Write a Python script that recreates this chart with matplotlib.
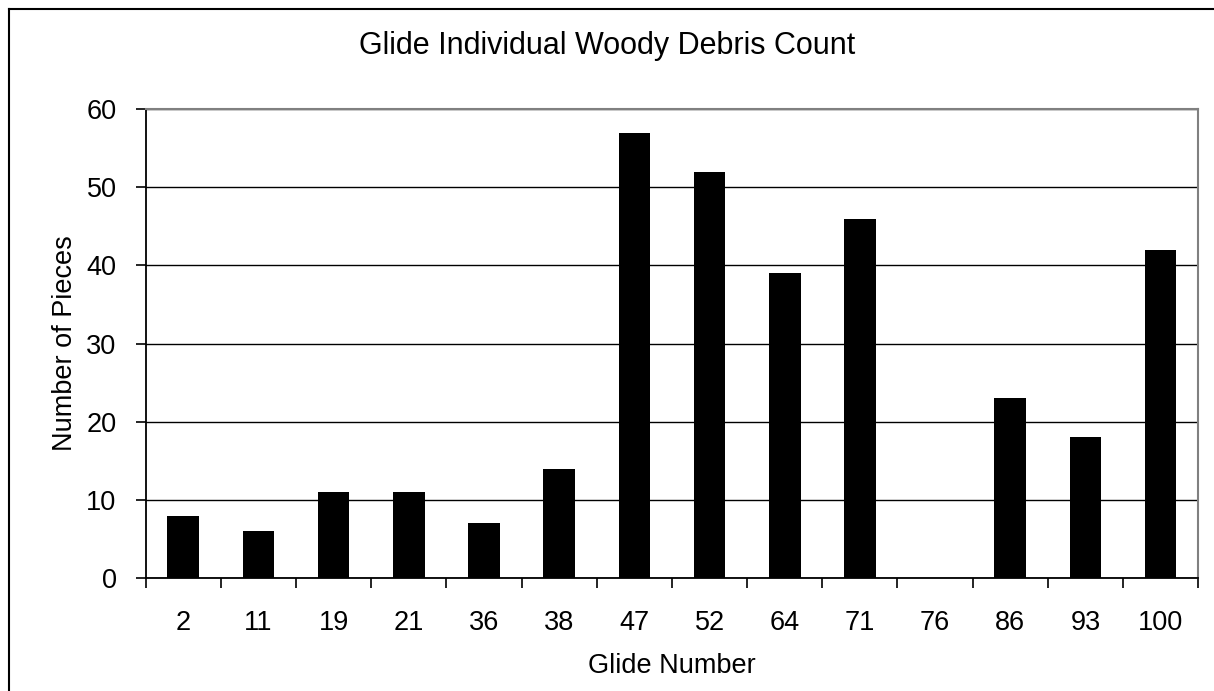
import matplotlib
matplotlib.use("Agg")
import matplotlib.pyplot as plt
import numpy as np
from matplotlib.lines import Line2D

glides = ["2", "11", "19", "21", "36", "38", "47", "52", "64", "71", "76", "86", "93", "100"]
pieces = [8, 6, 11, 11, 7, 14, 57, 52, 39, 46, 0, 23, 18, 42]
y_ticks = [0, 10, 20, 30, 40, 50, 60]

plt.rcParams["font.family"] = ["Liberation Sans", "DejaVu Sans"]

figure = plt.figure(figsize=(12.14, 6.91), dpi=100)
axes = figure.add_axes([0.120, 0.1635, 0.867, 0.6785])

x_axis = np.arange(len(glides))
axes.bar(x_axis, pieces, width=0.42, color="#000000", zorder=3)

axes.set_xlim(-0.5, len(glides) - 0.5)
axes.set_ylim(0, 60)
axes.set_yticks(y_ticks)
axes.set_yticklabels([str(t) for t in y_ticks], fontsize=19.5)
axes.grid(axis="y", color="#000000", linewidth=1.0, zorder=1)

# category boundary ticks, labels sit on minor ticks at the centres
axes.set_xticks(np.arange(-0.5, len(glides), 1))
axes.set_xticklabels([])
axes.set_xticks(x_axis, glides, minor=True)
axes.tick_params(axis="x", which="major", direction="out", length=7, width=1.2, color="#000000")
axes.tick_params(axis="x", which="minor", length=0, pad=23, labelsize=19.5)
axes.tick_params(axis="y", direction="out", length=7, width=1.2, pad=14)

for side in ["left", "bottom"]:
    axes.spines[side].set_color("#000000")
    axes.spines[side].set_linewidth(1.3)
for side in ["top", "right"]:
    axes.spines[side].set_color("#808080")
    axes.spines[side].set_linewidth(1.5)

# title is centred on the whole chart, not on the plot area
figure.suptitle("Glide Individual Woody Debris Count", fontsize=22, x=0.5, y=0.933, va="center")
axes.set_xlabel("Glide Number", fontsize=19.5, labelpad=12)
axes.set_ylabel("Number of Pieces", fontsize=19.5, labelpad=6)

# outer chart frame (left and top edges visible)
figure.add_artist(Line2D([0.0074, 0.0074], [0, 0.987], transform=figure.transFigure, color="#000000", linewidth=1.5))
figure.add_artist(Line2D([0.0074, 1.0], [0.987, 0.987], transform=figure.transFigure, color="#000000", linewidth=1.5))

figure.savefig("out.png", dpi=100)
